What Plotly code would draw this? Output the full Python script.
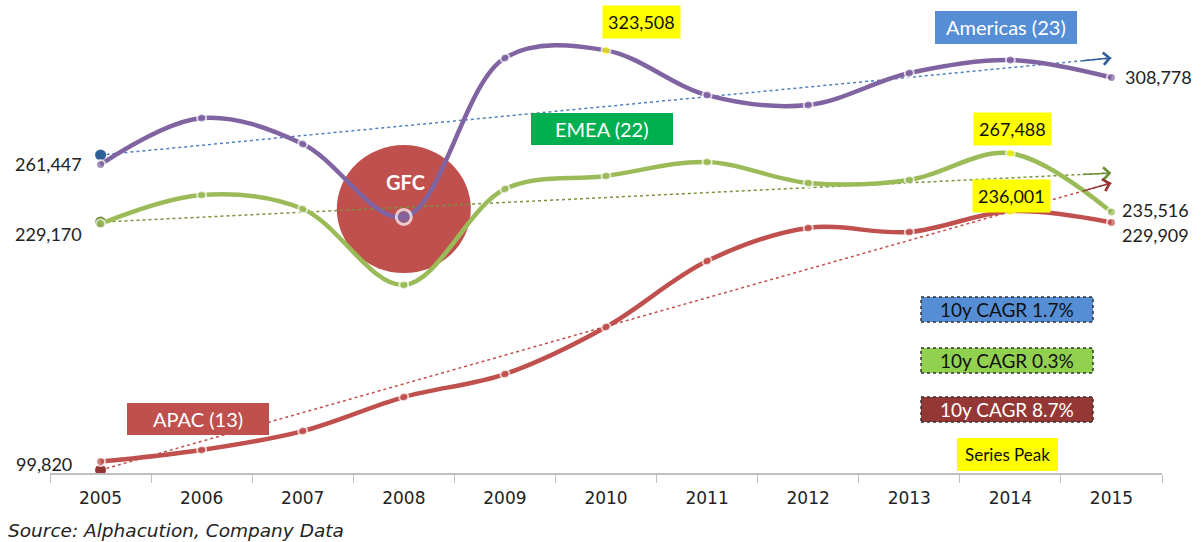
import plotly.graph_objects as go

years = ["2005", "2006", "2007", "2008", "2009", "2010", "2011", "2012", "2013", "2014", "2015"]
americas = [261447, 286700, 272600, 232900, 319400, 323508, 299200, 293800, 311200, 318300, 308778]
emea = [229170, 244800, 237200, 195900, 248100, 255200, 262800, 251400, 253000, 267488, 235516]
apac = [99820, 106100, 116400, 134900, 147400, 173000, 208900, 226900, 224700, 236001, 229909]

trend_americas = [266600, 319400]
trend_emea = [230100, 256800]
trend_apac = [95200, 251400]

cagr_labels = ["10y CAGR 1.7%", "10y CAGR 0.3%", "10y CAGR 8.7%"]
region_labels = ["Americas (23)", "EMEA (22)", "APAC (13)"]

PURPLE = "#8064A2"
GREEN = "#9BBB59"
RED = "#C0504D"
YELLOW = "#FFFF00"

NUMFONT = "Lato"
AXFONT = "DejaVu Sans"

# plot geometry (pixels)
L, R, T, B = 50, 41, 10, 69
W, H = 1203, 542
PW = W - L - R
PH = H - T - B
YMIN, YMAX = 93580, 345480


def px(x):
    return (x - L) / PW


def py(y):
    return (H - B - y) / PH


fig = go.Figure()

# GFC circle
fig.add_shape(type="circle", xref="x", yref="y", xsizemode="pixel", ysizemode="pixel",
              xanchor=3, yanchor=237200, x0=-67, x1=67, y0=-64, y1=64,
              fillcolor=RED, line=dict(width=0), layer="below")


def series(vals, color, name, peak_idx, special=None):
    colors = [color] * len(vals)
    sizes = [9] * len(vals)
    lw = [2] * len(vals)
    colors[peak_idx] = YELLOW
    if special is not None:
        sizes[special] = 15
        lw[special] = 3
    fig.add_trace(go.Scatter(
        x=years, y=vals, mode="lines+markers", name=name,
        line=dict(color=color, width=4.5, shape="spline", smoothing=1.0),
        marker=dict(color=colors, size=sizes, line=dict(color="white", width=lw)),
        cliponaxis=False, showlegend=False, hoverinfo="x+y"))


def trend(vals, color, mcolor):
    fig.add_trace(go.Scatter(
        x=[years[0], years[-1]], y=vals, mode="lines",
        line=dict(color=color, width=1.5, dash="dot"), showlegend=False, hoverinfo="skip"))
    fig.add_trace(go.Scatter(
        x=[years[0]], y=[vals[0]], mode="markers",
        marker=dict(color=mcolor, size=11), showlegend=False, hoverinfo="skip"))
    n = len(years) - 1
    frac = 0.97
    fig.add_annotation(x=n, y=vals[1], ax=n * frac, ay=vals[0] + (vals[1] - vals[0]) * frac,
                       xref="x", yref="y", axref="x", ayref="y", text="", showarrow=True,
                       arrowhead=4, arrowsize=1.6, arrowwidth=1.5, arrowcolor=mcolor)


trend(trend_americas, "#4F81BD", "#2F5F97")
trend(trend_emea, "#77933C", "#6E8E36")
trend(trend_apac, "#C0504D", "#943634")

series(americas, PURPLE, "Americas", 5, special=3)
series(emea, GREEN, "EMEA", 9)
series(apac, RED, "APAC", 9)

# GFC text
fig.add_annotation(x=3, y=237200, text="<b>GFC</b>", showarrow=False, yshift=27, xshift=2,
                   font=dict(family=NUMFONT, size=20, color="white"))

# end labels
def lab(xi, y, text, xshift, yshift, anchor):
    fig.add_annotation(x=xi, y=y, text=text, showarrow=False, xanchor=anchor,
                       xshift=xshift, yshift=yshift,
                       font=dict(family=NUMFONT, size=18, color="#222222"))


fmt = lambda v: f"{v:,}"
lab(0, americas[0], fmt(americas[0]), -17, 0, "right")
lab(0, emea[0], fmt(emea[0]), -17, -10, "right")
lab(0, apac[0], fmt(apac[0]), -27, -2, "right")
lab(10, americas[-1], fmt(americas[-1]), 12, 0, "left")
lab(10, emea[-1], fmt(emea[-1]), 9, 2, "left")
lab(10, apac[-1], fmt(apac[-1]), 9, -13, "left")

# peak labels
def peak(xi, y, xshift, yshift):
    fig.add_annotation(x=xi, y=y, text=fmt(y), showarrow=False, xshift=xshift, yshift=yshift,
                       bgcolor=YELLOW, borderpad=5,
                       font=dict(family=NUMFONT, size=18, color="#111111"))


peak(5, americas[5], 35, 28)
peak(9, emea[9], 2, 24)
peak(9, apac[9], 1, 15)

# region boxes
def box(x0, x1, y0, y1, color, text, tcolor, size=17, dash=None):
    fig.add_shape(type="rect", xref="paper", yref="paper",
                  x0=px(x0), x1=px(x1), y0=py(y1), y1=py(y0), fillcolor=color,
                  line=dict(width=1.5 if dash else 0, color="#333333", dash=dash or "solid"),
                  layer="above")
    fig.add_annotation(xref="paper", yref="paper", x=px((x0 + x1) / 2), y=py((y0 + y1) / 2),
                       text=text, showarrow=False, xanchor="center", yanchor="middle",
                       font=dict(family=NUMFONT, size=size, color=tcolor))


box(935, 1077, 11, 44, "#558ED5", region_labels[0], "white", 20)
box(531, 673, 113, 145, "#00B050", region_labels[1], "white", 20)
box(127, 269, 403, 435, RED, region_labels[2], "white", 20)

box(921, 1093, 297, 322, "#558ED5", cagr_labels[0], "#111111", 19, dash="dot")
box(921, 1093, 348, 373, "#92D050", cagr_labels[1], "#111111", 19, dash="dot")
box(921, 1093, 397, 422, "#953735", cagr_labels[2], "white", 19, dash="dot")

box(957, 1058, 438, 471, YELLOW, "Series Peak", "#111111", 17)

# source
fig.add_annotation(xref="paper", yref="paper", x=px(6), y=py(530), xanchor="left", yanchor="middle",
                   text="<i>Source: Alphacution, Company Data</i>", showarrow=False,
                   font=dict(family=AXFONT, size=18.5, color="#222222"))

fig.update_layout(
    width=W, height=H, margin=dict(l=L, r=R, t=T, b=B, autoexpand=False),
    plot_bgcolor="white", paper_bgcolor="white",
    xaxis=dict(type="category", categoryorder="array", categoryarray=years,
               range=[-0.5, 10.5], showline=True, linecolor="#BFBFBF", linewidth=1.5,
               ticks="outside", tickson="boundaries", ticklen=8, tickcolor="#BFBFBF",
               ticklabelstandoff=9,
               showgrid=False, zeroline=False,
               tickfont=dict(family=AXFONT, size=17, color="#222222")),
    yaxis=dict(range=[YMIN, YMAX], visible=False, showgrid=False, zeroline=False),
)

fig.write_html("out.html", config={"displayModeBar": False},
               post_script="document.body.style.margin='0';document.body.style.overflow='hidden';")
